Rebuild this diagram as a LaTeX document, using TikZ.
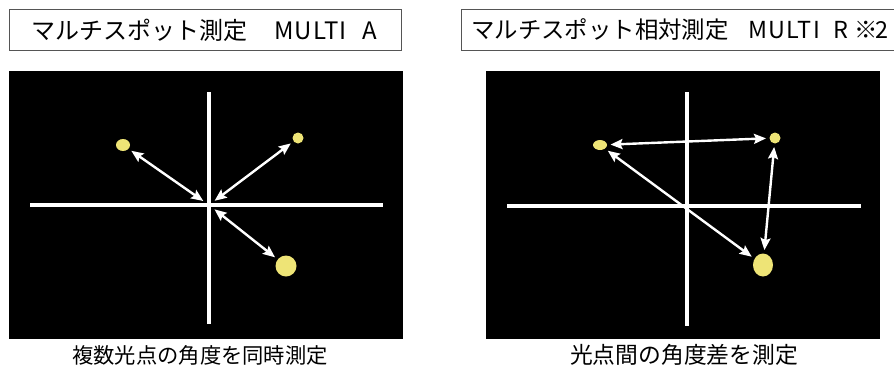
\documentclass[tikz,border=0pt]{standalone}
\usepackage{fontspec}
\setmainfont{Noto Sans CJK JP}
\usetikzlibrary{arrows.meta,shapes.geometric}
\definecolor{spotc}{RGB}{238,228,118}
\definecolor{boxc}{RGB}{85,85,85}
\begin{document}
\begin{tikzpicture}[x=1pt,y=-1pt,
  titlebox/.style={draw=boxc,line width=1.3pt},
  titletext/.style={inner sep=0pt,anchor=west},
  screen/.style={fill=black},
  cross/.style={draw=white,line width=3.5pt},
  spot/.style={ellipse,fill=spotc,inner sep=0pt,outer sep=3.5pt},
  meas/.style={draw=white,line width=2.4pt,{Stealth[length=12pt,width=10pt,inset=2pt]}-{Stealth[length=12pt,width=10pt,inset=2pt]}},
  caption/.style={inner sep=0pt}]
\useasboundingbox (0,0) rectangle (894,370);
% left panel
\draw[titlebox] (9.5,9.5) rectangle (401.5,50.5);
\node[titletext,font=\fontsize{24}{24}\selectfont] (tl) at (31,30) {\makebox[243pt][l]{マルチスポット測定}\makebox[88pt][l]{\addfontfeature{LetterSpace=5}MULTI}A};
\fill[screen] (9,71) rectangle (403,339);
\draw[cross] (209,92) -- (209,324);
\draw[cross] (30,205) -- (383,205);
\coordinate (cl) at (209,205);
\node[spot,minimum width=14pt,minimum height=12pt] (s1) at (123,145) {};
\node[spot,minimum width=11pt,minimum height=11pt] (s2) at (298,138) {};
\node[spot,minimum width=21pt,minimum height=21pt] (s3) at (286,266) {};
\draw[meas,shorten >=7pt] (s1) -- (cl);
\draw[meas,shorten >=7pt] (s2) -- (cl);
\draw[meas,shorten >=7pt] (s3) -- (cl);
\node[caption,font=\fontsize{21.3}{22}\selectfont] (capl) at (200,355) {複数光点の角度を同時測定};
% right panel
\draw[titlebox] (461.5,9.5) rectangle (900,50.5);
\node[titletext,font=\fontsize{23.4}{24}\selectfont] (tr) at (471,30) {\makebox[277pt][l]{マルチスポット相対測定}\makebox[85pt][l]{\addfontfeature{LetterSpace=6}MULTI}\makebox[21pt][l]{R}\makebox[21pt][l]{※}2};
\fill[screen] (486,71) rectangle (880,339);
\draw[cross] (687,92) -- (687,326);
\draw[cross] (507,206) -- (861,206);
\node[spot,minimum width=14pt,minimum height=10pt] (ra) at (600,145) {};
\node[spot,minimum width=11pt,minimum height=11pt] (rb) at (775,138) {};
\node[spot,minimum width=20pt,minimum height=23pt] (rc) at (763,265) {};
\draw[meas] (ra) -- (rb);
\draw[meas] (ra) -- (rc);
\draw[meas] (rb) -- (rc);
\node[caption,font=\fontsize{22.8}{24}\selectfont] (capr) at (684,355) {光点間の角度差を測定};
\end{tikzpicture}
\end{document}
